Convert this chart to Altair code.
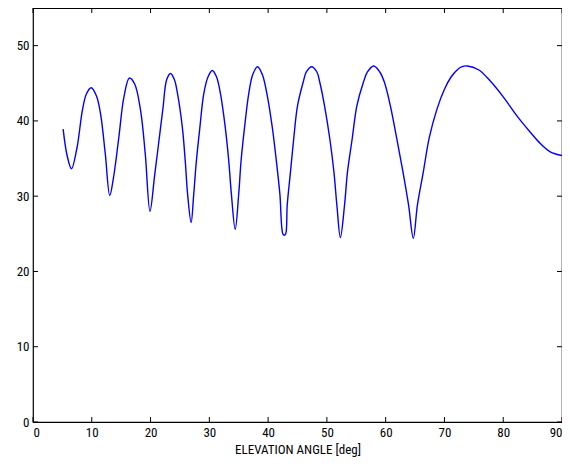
import altair as alt
import pandas as pd

elev = [5.13, 5.8, 6.55, 7.5, 8.4, 9.1, 9.9, 10.8, 11.5, 12.3, 13.06,
        13.7, 14.6, 15.45, 16.4, 17.3, 18.3, 19.1, 19.9,
        20.7, 21.4, 22.1, 22.75, 23.4, 24.05, 24.55, 25.4, 25.9, 26.3, 26.9,
        27.35, 27.8, 28.4, 29.05, 29.8, 30.5, 31.2, 31.9, 32.7, 33.3, 33.75, 34.4,
        35.0, 35.4, 36.0, 36.7, 37.4, 38.2, 39.0, 39.8, 40.7, 41.4, 42.0, 42.5, 42.75, 43.0,
        43.25, 43.8, 44.35, 45.0, 45.95, 46.5, 47.4, 48.3, 48.8, 49.6, 50.5, 51.2, 51.7, 52.3,
        53.0, 53.5, 54.3, 55.1, 56.2, 56.9, 57.96, 59.0, 59.8, 60.8, 61.9, 62.95, 63.9, 64.7,
        65.4, 66.4, 67.4, 68.7, 70.0, 71.1, 72.2, 73.0, 73.9, 75.8, 77.8, 80.1, 82.3, 84.6, 86.3, 88.0, 90.0]
level = [38.9, 35.4, 33.65, 36.5, 41.4, 43.6, 44.4, 43.3, 40.9, 35.6, 30.1,
         32.5, 37.8, 43.1, 45.7, 44.9, 41.4, 35.6, 28.0,
         32.8, 37.2, 41.6, 45.5, 46.3, 45.5, 43.8, 39.2, 34.7, 30.3, 26.5,
         30.3, 34.7, 39.2, 43.6, 45.9, 46.7, 45.9, 43.6, 39.2, 34.7, 30.3, 25.6,
         30.3, 34.7, 39.2, 43.6, 46.2, 47.2, 46.2, 43.6, 39.2, 34.7, 30.3, 25.0, 24.8, 25.0,
         28.8, 33.2, 37.6, 42.0, 45.1, 46.5, 47.2, 46.5, 45.1, 42.0, 37.6, 33.2, 28.8, 24.5,
         28.8, 33.2, 37.6, 42.0, 45.1, 46.5, 47.3, 46.5, 45.1, 42.0, 37.6, 33.2, 28.8, 24.4,
         28.8, 33.2, 37.7, 41.5, 44.2, 45.8, 46.8, 47.2, 47.3, 46.8, 45.3, 43.1, 40.7, 38.5, 37.0, 35.9, 35.4]

x_ticks = [0, 10, 20, 30, 40, 50, 60, 70, 80, 90]
y_ticks = [0, 10, 20, 30, 40, 50]

W, H = 529, 414
FONT = "Liberation Sans Narrow, Roboto Condensed, DejaVu Sans Condensed, Roboto"
TL = 5

df = pd.DataFrame({"elev": elev, "level": level})
xs = alt.Scale(domain=[0, 90], nice=False, zero=False)
ys = alt.Scale(domain=[0, 55], nice=False, zero=False)

line = alt.Chart(df).mark_line(color="#0000ff", strokeWidth=1.4, interpolate="catmull-rom").encode(
    x=alt.X("elev:Q", scale=xs,
            axis=alt.Axis(title="ELEVATION ANGLE [deg]", values=x_ticks, grid=False, ticks=False,
                          domain=False, labelPadding=4, labelFont=FONT, labelFontSize=13,
                          labelColor="black", titleFont=FONT, titleFontSize=13,
                          titleFontWeight="normal", titleColor="black", titlePadding=4)),
    y=alt.Y("level:Q", scale=ys,
            axis=alt.Axis(title=None, values=y_ticks, grid=False, ticks=False, domain=False,
                          labelPadding=4, labelFont=FONT, labelFontSize=13, labelColor="black")),
)

xt = pd.DataFrame({"t": x_ticks})
yt = pd.DataFrame({"t": y_ticks})
xb = alt.Chart(xt).mark_rule(color="black", strokeWidth=1).encode(
    x=alt.X("t:Q", scale=xs), y=alt.value(H), y2=alt.value(H - TL))
xtop = alt.Chart(xt).mark_rule(color="black", strokeWidth=1).encode(
    x=alt.X("t:Q", scale=xs), y=alt.value(0), y2=alt.value(TL))
yl = alt.Chart(yt).mark_rule(color="black", strokeWidth=1).encode(
    y=alt.Y("t:Q", scale=ys), x=alt.value(0), x2=alt.value(TL))
yr = alt.Chart(yt).mark_rule(color="black", strokeWidth=1).encode(
    y=alt.Y("t:Q", scale=ys), x=alt.value(W), x2=alt.value(W - TL))

chart = alt.layer(line, xb, xtop, yl, yr).properties(
    width=W, height=H,
    autosize=alt.AutoSizeParams(type="none"),
    padding={"left": 25, "top": 0, "right": 0, "bottom": 40},
    background="white",
).configure_view(stroke="#000000", strokeWidth=1.2, strokeOpacity=1)

chart.save("out.html", embed_options={"renderer": "svg", "actions": False})
